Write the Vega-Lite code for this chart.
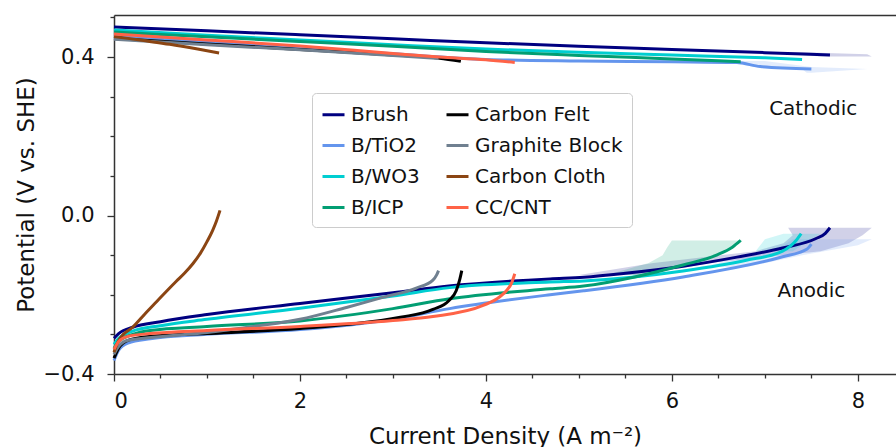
{
  "$schema": "https://vega.github.io/schema/vega-lite/v6.json",
  "width": 782,
  "height": 359,
  "autosize": {"type": "none"},
  "padding": {"left": 114, "top": 15, "right": 0, "bottom": 73},
  "config": {
    "font": "DejaVu Sans",
    "view": {"stroke": null},
    "axis": {"grid": false, "domainColor": "#333333", "tickColor": "#333333", "labelColor": "#111111", "titleColor": "#111111", "titleFontWeight": "normal", "labelFontSize": 21, "titleFontSize": 23, "domainWidth": 1.5, "tickWidth": 1.3}
  },
  "datasets": {
    "lines": [
      {"s":"Brush","b":"cat","x":0,"y":0.476},{"s":"Brush","b":"cat","x":1,"y":0.466},{"s":"Brush","b":"cat","x":2,"y":0.456},{"s":"Brush","b":"cat","x":3,"y":0.446},{"s":"Brush","b":"cat","x":4,"y":0.436},{"s":"Brush","b":"cat","x":5,"y":0.427},{"s":"Brush","b":"cat","x":6,"y":0.419},{"s":"Brush","b":"cat","x":7,"y":0.411},{"s":"Brush","b":"cat","x":7.7,"y":0.405},
      {"s":"Brush","b":"an","x":0,"y":-0.31},{"s":"Brush","b":"an","x":0.05,"y":-0.298},{"s":"Brush","b":"an","x":0.2,"y":-0.282},{"s":"Brush","b":"an","x":0.5,"y":-0.268},{"s":"Brush","b":"an","x":1,"y":-0.25},{"s":"Brush","b":"an","x":2,"y":-0.222},{"s":"Brush","b":"an","x":3,"y":-0.195},{"s":"Brush","b":"an","x":3.6,"y":-0.178},{"s":"Brush","b":"an","x":4.69,"y":-0.16},{"s":"Brush","b":"an","x":5.05,"y":-0.156},{"s":"Brush","b":"an","x":5.5,"y":-0.146},{"s":"Brush","b":"an","x":6.12,"y":-0.128},{"s":"Brush","b":"an","x":6.7,"y":-0.105},{"s":"Brush","b":"an","x":7.19,"y":-0.082},{"s":"Brush","b":"an","x":7.55,"y":-0.058},{"s":"Brush","b":"an","x":7.65,"y":-0.045},{"s":"Brush","b":"an","x":7.7,"y":-0.031},
      {"s":"B/TiO2","b":"cat","x":0,"y":0.452},{"s":"B/TiO2","b":"cat","x":1,"y":0.437},{"s":"B/TiO2","b":"cat","x":2,"y":0.423},{"s":"B/TiO2","b":"cat","x":3,"y":0.408},{"s":"B/TiO2","b":"cat","x":4,"y":0.394},{"s":"B/TiO2","b":"cat","x":5,"y":0.39},{"s":"B/TiO2","b":"cat","x":6,"y":0.388},{"s":"B/TiO2","b":"cat","x":6.7,"y":0.386},{"s":"B/TiO2","b":"cat","x":6.95,"y":0.376},{"s":"B/TiO2","b":"cat","x":7.5,"y":0.37},
      {"s":"B/TiO2","b":"an","x":0,"y":-0.366},{"s":"B/TiO2","b":"an","x":0.05,"y":-0.34},{"s":"B/TiO2","b":"an","x":0.15,"y":-0.322},{"s":"B/TiO2","b":"an","x":0.39,"y":-0.311},{"s":"B/TiO2","b":"an","x":1,"y":-0.3},{"s":"B/TiO2","b":"an","x":2,"y":-0.288},{"s":"B/TiO2","b":"an","x":3,"y":-0.262},{"s":"B/TiO2","b":"an","x":3.61,"y":-0.235},{"s":"B/TiO2","b":"an","x":4.69,"y":-0.2},{"s":"B/TiO2","b":"an","x":5.05,"y":-0.19},{"s":"B/TiO2","b":"an","x":6.12,"y":-0.155},{"s":"B/TiO2","b":"an","x":7.19,"y":-0.104},{"s":"B/TiO2","b":"an","x":7.45,"y":-0.085},{"s":"B/TiO2","b":"an","x":7.5,"y":-0.072},
      {"s":"B/WO3","b":"cat","x":0,"y":0.468},{"s":"B/WO3","b":"cat","x":1,"y":0.455},{"s":"B/WO3","b":"cat","x":2,"y":0.443},{"s":"B/WO3","b":"cat","x":3,"y":0.431},{"s":"B/WO3","b":"cat","x":4,"y":0.42},{"s":"B/WO3","b":"cat","x":5,"y":0.412},{"s":"B/WO3","b":"cat","x":6,"y":0.405},{"s":"B/WO3","b":"cat","x":7,"y":0.398},{"s":"B/WO3","b":"cat","x":7.4,"y":0.394},
      {"s":"B/WO3","b":"an","x":0,"y":-0.325},{"s":"B/WO3","b":"an","x":0.05,"y":-0.31},{"s":"B/WO3","b":"an","x":0.2,"y":-0.292},{"s":"B/WO3","b":"an","x":0.5,"y":-0.278},{"s":"B/WO3","b":"an","x":1,"y":-0.262},{"s":"B/WO3","b":"an","x":2,"y":-0.234},{"s":"B/WO3","b":"an","x":3,"y":-0.203},{"s":"B/WO3","b":"an","x":3.61,"y":-0.182},{"s":"B/WO3","b":"an","x":4.69,"y":-0.168},{"s":"B/WO3","b":"an","x":5.05,"y":-0.165},{"s":"B/WO3","b":"an","x":6.12,"y":-0.14},{"s":"B/WO3","b":"an","x":6.8,"y":-0.113},{"s":"B/WO3","b":"an","x":7.19,"y":-0.09},{"s":"B/WO3","b":"an","x":7.34,"y":-0.062},{"s":"B/WO3","b":"an","x":7.39,"y":-0.046},
      {"s":"B/ICP","b":"cat","x":0,"y":0.463},{"s":"B/ICP","b":"cat","x":1,"y":0.451},{"s":"B/ICP","b":"cat","x":2,"y":0.439},{"s":"B/ICP","b":"cat","x":3,"y":0.427},{"s":"B/ICP","b":"cat","x":4,"y":0.414},{"s":"B/ICP","b":"cat","x":5,"y":0.404},{"s":"B/ICP","b":"cat","x":6,"y":0.395},{"s":"B/ICP","b":"cat","x":6.74,"y":0.388},
      {"s":"B/ICP","b":"an","x":0,"y":-0.335},{"s":"B/ICP","b":"an","x":0.05,"y":-0.318},{"s":"B/ICP","b":"an","x":0.2,"y":-0.3},{"s":"B/ICP","b":"an","x":0.39,"y":-0.29},{"s":"B/ICP","b":"an","x":1,"y":-0.28},{"s":"B/ICP","b":"an","x":2,"y":-0.266},{"s":"B/ICP","b":"an","x":3,"y":-0.235},{"s":"B/ICP","b":"an","x":3.61,"y":-0.21},{"s":"B/ICP","b":"an","x":4.69,"y":-0.185},{"s":"B/ICP","b":"an","x":5.05,"y":-0.178},{"s":"B/ICP","b":"an","x":5.6,"y":-0.155},{"s":"B/ICP","b":"an","x":6.12,"y":-0.125},{"s":"B/ICP","b":"an","x":6.48,"y":-0.1},{"s":"B/ICP","b":"an","x":6.65,"y":-0.08},{"s":"B/ICP","b":"an","x":6.74,"y":-0.063},
      {"s":"Carbon Felt","b":"cat","x":0,"y":0.447},{"s":"Carbon Felt","b":"cat","x":1,"y":0.433},{"s":"Carbon Felt","b":"cat","x":2,"y":0.419},{"s":"Carbon Felt","b":"cat","x":3,"y":0.405},{"s":"Carbon Felt","b":"cat","x":3.5,"y":0.397},{"s":"Carbon Felt","b":"cat","x":3.73,"y":0.389},
      {"s":"Carbon Felt","b":"an","x":0,"y":-0.36},{"s":"Carbon Felt","b":"an","x":0.05,"y":-0.335},{"s":"Carbon Felt","b":"an","x":0.15,"y":-0.315},{"s":"Carbon Felt","b":"an","x":0.4,"y":-0.305},{"s":"Carbon Felt","b":"an","x":1,"y":-0.298},{"s":"Carbon Felt","b":"an","x":2,"y":-0.285},{"s":"Carbon Felt","b":"an","x":2.5,"y":-0.275},{"s":"Carbon Felt","b":"an","x":3.08,"y":-0.257},{"s":"Carbon Felt","b":"an","x":3.43,"y":-0.237},{"s":"Carbon Felt","b":"an","x":3.6,"y":-0.215},{"s":"Carbon Felt","b":"an","x":3.68,"y":-0.19},{"s":"Carbon Felt","b":"an","x":3.72,"y":-0.16},{"s":"Carbon Felt","b":"an","x":3.74,"y":-0.139},
      {"s":"Graphite Block","b":"cat","x":0,"y":0.445},{"s":"Graphite Block","b":"cat","x":1,"y":0.431},{"s":"Graphite Block","b":"cat","x":2,"y":0.418},{"s":"Graphite Block","b":"cat","x":3,"y":0.404},{"s":"Graphite Block","b":"cat","x":3.49,"y":0.396},
      {"s":"Graphite Block","b":"an","x":0,"y":-0.35},{"s":"Graphite Block","b":"an","x":0.05,"y":-0.33},{"s":"Graphite Block","b":"an","x":0.15,"y":-0.315},{"s":"Graphite Block","b":"an","x":0.4,"y":-0.308},{"s":"Graphite Block","b":"an","x":1,"y":-0.295},{"s":"Graphite Block","b":"an","x":1.5,"y":-0.28},{"s":"Graphite Block","b":"an","x":2,"y":-0.262},{"s":"Graphite Block","b":"an","x":2.5,"y":-0.232},{"s":"Graphite Block","b":"an","x":2.9,"y":-0.206},{"s":"Graphite Block","b":"an","x":3.25,"y":-0.183},{"s":"Graphite Block","b":"an","x":3.43,"y":-0.163},{"s":"Graphite Block","b":"an","x":3.47,"y":-0.15},{"s":"Graphite Block","b":"an","x":3.49,"y":-0.139},
      {"s":"Carbon Cloth","b":"cat","x":0,"y":0.452},{"s":"Carbon Cloth","b":"cat","x":0.3,"y":0.442},{"s":"Carbon Cloth","b":"cat","x":0.6,"y":0.432},{"s":"Carbon Cloth","b":"cat","x":0.9,"y":0.42},{"s":"Carbon Cloth","b":"cat","x":1.13,"y":0.41},
      {"s":"Carbon Cloth","b":"an","x":0,"y":-0.345},{"s":"Carbon Cloth","b":"an","x":0.05,"y":-0.315},{"s":"Carbon Cloth","b":"an","x":0.1,"y":-0.3},{"s":"Carbon Cloth","b":"an","x":0.2,"y":-0.282},{"s":"Carbon Cloth","b":"an","x":0.33,"y":-0.249},{"s":"Carbon Cloth","b":"an","x":0.46,"y":-0.217},{"s":"Carbon Cloth","b":"an","x":0.57,"y":-0.19},{"s":"Carbon Cloth","b":"an","x":0.67,"y":-0.166},{"s":"Carbon Cloth","b":"an","x":0.76,"y":-0.145},{"s":"Carbon Cloth","b":"an","x":0.85,"y":-0.121},{"s":"Carbon Cloth","b":"an","x":0.93,"y":-0.095},{"s":"Carbon Cloth","b":"an","x":1.0,"y":-0.066},{"s":"Carbon Cloth","b":"an","x":1.06,"y":-0.038},{"s":"Carbon Cloth","b":"an","x":1.1,"y":-0.015},{"s":"Carbon Cloth","b":"an","x":1.14,"y":0.013},
      {"s":"CC/CNT","b":"cat","x":0,"y":0.458},{"s":"CC/CNT","b":"cat","x":1,"y":0.443},{"s":"CC/CNT","b":"cat","x":2,"y":0.428},{"s":"CC/CNT","b":"cat","x":3,"y":0.409},{"s":"CC/CNT","b":"cat","x":3.5,"y":0.4},{"s":"CC/CNT","b":"cat","x":4,"y":0.393},{"s":"CC/CNT","b":"cat","x":4.31,"y":0.386},
      {"s":"CC/CNT","b":"an","x":0,"y":-0.338},{"s":"CC/CNT","b":"an","x":0.05,"y":-0.318},{"s":"CC/CNT","b":"an","x":0.15,"y":-0.305},{"s":"CC/CNT","b":"an","x":0.39,"y":-0.298},{"s":"CC/CNT","b":"an","x":1,"y":-0.29},{"s":"CC/CNT","b":"an","x":2,"y":-0.28},{"s":"CC/CNT","b":"an","x":3,"y":-0.265},{"s":"CC/CNT","b":"an","x":3.43,"y":-0.255},{"s":"CC/CNT","b":"an","x":3.97,"y":-0.227},{"s":"CC/CNT","b":"an","x":4.15,"y":-0.205},{"s":"CC/CNT","b":"an","x":4.22,"y":-0.19},{"s":"CC/CNT","b":"an","x":4.28,"y":-0.168},{"s":"CC/CNT","b":"an","x":4.31,"y":-0.147}
    ],
    "bands": [
      {"s":"Brush","b":"an","y":-0.031,"lo":7.25,"hi":8.15},{"s":"Brush","b":"an","y":-0.05,"lo":7.3,"hi":8.05},{"s":"Brush","b":"an","y":-0.07,"lo":7.2,"hi":7.9},{"s":"Brush","b":"an","y":-0.09,"lo":6.9,"hi":7.6},{"s":"Brush","b":"an","y":-0.12,"lo":5.8,"hi":6.4},{"s":"Brush","b":"an","y":-0.15,"lo":5.0,"hi":5.7},
      {"s":"B/TiO2","b":"an","y":-0.06,"lo":7.3,"hi":8.15},{"s":"B/TiO2","b":"an","y":-0.075,"lo":7.2,"hi":8.0},{"s":"B/TiO2","b":"an","y":-0.1,"lo":6.9,"hi":7.4},{"s":"B/TiO2","b":"an","y":-0.13,"lo":6.3,"hi":6.8},
      {"s":"B/WO3","b":"an","y":-0.046,"lo":7.2,"hi":7.6},{"s":"B/WO3","b":"an","y":-0.06,"lo":7.0,"hi":7.5},{"s":"B/WO3","b":"an","y":-0.09,"lo":6.9,"hi":7.3},
      {"s":"B/ICP","b":"an","y":-0.063,"lo":6.0,"hi":6.76},{"s":"B/ICP","b":"an","y":-0.08,"lo":5.95,"hi":6.65},{"s":"B/ICP","b":"an","y":-0.1,"lo":5.9,"hi":6.5},{"s":"B/ICP","b":"an","y":-0.12,"lo":5.75,"hi":6.2},{"s":"B/ICP","b":"an","y":-0.15,"lo":5.3,"hi":5.65},
      {"s":"Brush","b":"cat","y":0.401,"lo":7.6,"hi":8.15},{"s":"Brush","b":"cat","y":0.407,"lo":7.3,"hi":8.1},{"s":"Brush","b":"cat","y":0.412,"lo":6.9,"hi":7.4},
      {"s":"B/TiO2","b":"cat","y":0.36,"lo":7.45,"hi":7.5},{"s":"B/TiO2","b":"cat","y":0.37,"lo":7.4,"hi":8.1},{"s":"B/TiO2","b":"cat","y":0.375,"lo":6.9,"hi":7.5},{"s":"B/TiO2","b":"cat","y":0.39,"lo":6.5,"hi":7.0}
    ],
    "notes": [
      {"label":"Cathodic","x":7.52,"y":0.27},
      {"label":"Anodic","x":7.5,"y":-0.19}
    ]
  },
  "resolve": {"axis": {"x": "independent", "y": "independent"}, "legend": {"color": "independent"}},
  "layer": [
    {
      "data": {"name": "bands"},
      "mark": {"type": "area", "orient": "horizontal", "opacity": 0.18},
      "encoding": {
        "y": {"field": "y", "type": "quantitative", "scale": {"domain": [-0.4, 0.506], "nice": false, "zero": false}, "axis": {"orient": "left", "values": [-0.3, -0.2, -0.1, 0.1, 0.2, 0.3, 0.5], "labels": false, "domain": false, "tickSize": 4, "title": null}},
        "x": {"field": "lo", "type": "quantitative", "scale": {"domain": [0, 8.41], "nice": false, "zero": false}, "axis": {"orient": "bottom", "values": [0.5, 1, 1.5, 2.5, 3, 3.5, 4.5, 5, 5.5, 6.5, 7, 7.5], "labels": false, "domain": false, "tickSize": 4, "title": null}},
        "x2": {"field": "hi"},
        "color": {"field": "s", "type": "nominal", "legend": null},
        "detail": {"field": "b"}
      }
    },
    {
      "data": {"name": "lines"},
      "mark": {"type": "line", "strokeWidth": 3, "interpolate": "monotone"},
      "encoding": {
        "x": {"field": "x", "type": "quantitative", "axis": {"orient": "bottom", "values": [0, 2, 4, 6, 8], "tickSize": 7, "labelPadding": 9, "title": "Current Density (A m⁻²)", "titlePadding": 14}},
        "y": {"field": "y", "type": "quantitative", "axis": {"orient": "left", "values": [-0.4, 0, 0.4], "format": ".1f", "tickSize": 7, "labelPadding": 13, "title": "Potential (V vs. SHE)", "titlePadding": 5}},
        "color": {"field": "s", "type": "nominal",
          "scale": {"domain": ["Brush", "B/TiO2", "B/WO3", "B/ICP", "Carbon Felt", "Graphite Block", "Carbon Cloth", "CC/CNT"],
                    "range": ["#000080", "#6495ED", "#00CED1", "#029E73", "#000000", "#708090", "#8B4513", "#FF6347"]},
          "legend": {"orient": "none", "legendX": 198, "legendY": 78, "columns": 2, "fillColor": "white", "strokeColor": "#cccccc", "cornerRadius": 4, "padding": 9, "rowPadding": 8, "columnPadding": 20, "labelFontSize": 20, "labelColor": "#111111", "symbolType": "stroke", "symbolStrokeWidth": 3, "symbolSize": 484, "symbolOpacity": 1, "labelOffset": 5, "title": null}},
        "detail": {"field": "b"}
      }
    },
    {
      "data": {"name": "notes"},
      "mark": {"type": "text", "fontSize": 20, "color": "#111111"},
      "encoding": {
        "x": {"field": "x", "type": "quantitative", "axis": {"orient": "top", "ticks": false, "labels": false, "title": null}},
        "y": {"field": "y", "type": "quantitative", "axis": null},
        "text": {"field": "label"}
      }
    }
  ]
}
